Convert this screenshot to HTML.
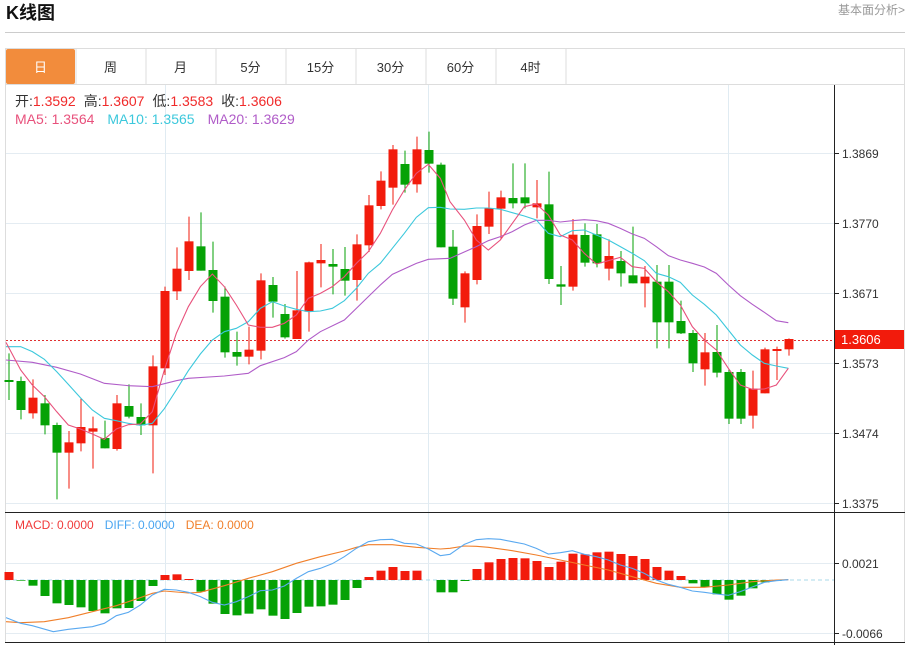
<!DOCTYPE html>
<html><head><meta charset="utf-8"><style>
body{margin:0;background:#fff;width:913px;height:645px;overflow:hidden;font-family:"Liberation Sans","Noto Sans CJK SC",sans-serif;}
svg{position:absolute;left:0;top:0}
</style></head><body>
<svg id="s" width="913" height="645" xmlns="http://www.w3.org/2000/svg" font-family="Liberation Sans, Noto Sans CJK SC, sans-serif">
<text x="6" y="19" font-size="18" font-weight="bold" fill="#111">K线图</text>
<text x="905" y="14" font-size="12" fill="#999" text-anchor="end">基本面分析&gt;</text>
<line x1="5" y1="32.5" x2="905" y2="32.5" stroke="#ccc"/>
<rect x="5.5" y="48.5" width="899" height="594" fill="none" stroke="#ddd"/>
<line x1="5.5" y1="84.5" x2="904.5" y2="84.5" stroke="#ddd"/>
<rect x="6" y="49" width="69" height="35" fill="#f28c3c" rx="2"/>
<g id="tabs"></g>
<g id="grid"></g>
<g id="plot"></g>
<line x1="834.5" y1="85" x2="834.5" y2="645" stroke="#222"/>
<line x1="5" y1="512.5" x2="905" y2="512.5" stroke="#222"/>
<line x1="5" y1="642.5" x2="905" y2="642.5" stroke="#222"/>
<rect x="835" y="330" width="69" height="19" fill="#f21b0c"/>
<text x="841" y="344" font-size="13" fill="#fff">1.3606</text>
<text x="15" y="106" font-size="14"><tspan fill="#333">开:</tspan><tspan fill="#f02a2a">1.3592</tspan><tspan fill="#333" dx="8">高:</tspan><tspan fill="#f02a2a">1.3607</tspan><tspan fill="#333" dx="8">低:</tspan><tspan fill="#f02a2a">1.3583</tspan><tspan fill="#333" dx="8">收:</tspan><tspan fill="#f02a2a">1.3606</tspan></text>
<text x="15" y="124" font-size="14"><tspan fill="#e8517c">MA5: 1.3564</tspan><tspan fill="#3cc8dc" dx="13">MA10: 1.3565</tspan><tspan fill="#b05cc8" dx="13">MA20: 1.3629</tspan></text>
<text x="15" y="529" font-size="12"><tspan fill="#f03a3a">MACD: 0.0000</tspan><tspan fill="#4aa5f0" dx="11">DIFF: 0.0000</tspan><tspan fill="#f07f2a" dx="11">DEA: 0.0000</tspan></text>
</svg>
<script>
var NS="http://www.w3.org/2000/svg";
function el(p,t,a,txt){var e=document.createElementNS(NS,t);for(var k in a)e.setAttribute(k,a[k]);if(txt!=null)e.textContent=txt;document.getElementById(p).appendChild(e);return e;}
var tabs=["日","周","月","5分","15分","30分","60分","4时"];
for(var i=0;i<8;i++){var x0=5.5+70*i;
 if(i>0)el("tabs","line",{x1:x0+0.5,y1:49,x2:x0+0.5,y2:84,stroke:"#ddd"});
 el("tabs","text",{x:x0+35,y:72,"font-size":"13","text-anchor":"middle",fill:i==0?"#fff":"#333"},tabs[i]);}
el("tabs","line",{x1:566,y1:49,x2:566,y2:84,stroke:"#ddd"});
[153,223,293,363,433,503].forEach(function(y,i){el("grid","line",{x1:6,y1:y+.5,x2:834,y2:y+.5,stroke:"#e4ecf2"});
 el("grid","line",{x1:834,y1:y+.5,x2:839,y2:y+.5,stroke:"#222"});
 el("grid","text",{x:842,y:y+5,"font-size":"12",fill:"#333"},["1.3869","1.3770","1.3671","1.3573","1.3474","1.3375"][i]);});
[165,428,728].forEach(function(x){el("grid","line",{x1:x+.5,y1:85,x2:x+.5,y2:642,stroke:"#e0ebf2"});});
[563,633].forEach(function(y,i){el("grid","line",{x1:6,y1:y+.5,x2:834,y2:y+.5,stroke:"#e4ecf2"});
 el("grid","line",{x1:834,y1:y+.5,x2:839,y2:y+.5,stroke:"#222"});
 el("grid","text",{x:842,y:y+5,"font-size":"12",fill:"#333"},["0.0021","-0.0066"][i]);});
el("grid","line",{x1:6,y1:580,x2:834,y2:580,stroke:"#a8d8ea","stroke-dasharray":"4,3"});
el("grid","line",{x1:6,y1:340.5,x2:834,y2:340.5,stroke:"#e03030","stroke-dasharray":"2,2"});
var C=[
["g",750,754,670,810],["g",753,840,740,868],["r",803,850,748,866],["g",820,886,795,913],["g",885,968,878,1108],["r",937,968,903,1076],["r",891,940,804,964],["r",895,905,860,1016],["g",924,955,872,955],["r",820,957,795,962],
["g",828,860,763,865],["g",861,886,820,915],["r",709,886,676,1030],["r",483,715,470,735],["r",416,484,352,510],["r",334,423,260,450],["g",349,422,247,422],["g",420,513,335,548],["g",500,667,470,683],["g",666,680,605,707],
["r",659,680,590,703],["r",451,662,430,688],["g",465,515,441,563],["g",552,622,522,626],["r",541,627,423,627],["r",397,545,395,605],["r",390,400,342,472],["g",402,410,357,493],["g",417,452,351,497],["r",343,450,313,512],
["r",226,346,195,366],["r",152,228,124,238],["r",58,173,45,224],["g",102,164,62,188],["r",58,163,20,188],["g",60,101,5,128],["g",104,352,98,352],["g",350,506,300,525],["r",430,532,424,578],["r",288,450,253,463],
["r",235,290,185,312],["r",202,236,182,328],["g",204,220,100,235],["g",202,220,100,235],["r",220,232,150,265],["g",223,447,125,462],["g",463,470,408,525],["r",314,470,267,482],["g",315,398,280,410],["g",313,400,282,412],
["r",378,416,328,451],["g",393,430,363,470],["g",436,460,290,460],["r",440,460,408,532],["g",455,577,405,655],["g",455,577,405,655],["g",573,610,512,612],["g",609,700,600,726],["r",667,718,609,767],["g",666,728,585,742],
["g",726,866,717,882],["g",726,866,717,882],["r",776,857,722,896],["r",658,790,653,790],["r",657,662,650,750],["r",627,658,625,677]];
var RED="#f21b0c",GRN="#05a205";
function Y(z){return 130+z/3;}
C.forEach(function(c,i){var x=9+12*i,col=c[0]=="r"?RED:GRN;
 el("plot","line",{x1:x,y1:Y(c[3]),x2:x,y2:Y(c[4]),stroke:col,"stroke-width":1});
 var t=Y(c[1]),b=Y(c[2]);if(b-t<2)b=t+2;
 el("plot","rect",{x:x-4.5,y:t,width:9,height:b-t,fill:col});});
function line(a,b,col,base,yoff){var pts=[];a.forEach(function(p){pts.push((p[0]/3)+","+(yoff+p[1]/3));});b.forEach(function(p){pts.push((450+p[0]/3)+","+(yoff+p[1]/3));});
 el("plot","polyline",{points:pts.join(" "),fill:"none",stroke:col,"stroke-width":1.1});}
line([[18,690],[97,697],[170,712],[241,732],[313,760],[385,767],[457,770],[529,752],[565,745],[673,738],[745,730],[781,707],[853,683],[889,665],[925,630],[961,605],[1033,570],[1069,535],[1105,500],[1141,465],[1177,433],[1249,400],[1285,388],[1350,385]],
[[79,350],[115,332],[151,320],[187,305],[223,285],[259,271],[295,271],[331,276],[367,272],[403,269],[439,272],[475,280],[511,295],[547,312],[583,325],[619,350],[655,377],[691,390],[727,400],[763,411],[799,430],[835,465],[871,497],[907,523],[943,547],[979,572],[1015,578]],"#b05cc8",0,130);
line([[18,650],[62,650],[97,665],[133,688],[170,725],[205,763],[241,803],[277,840],[313,865],[349,872],[385,880],[421,886],[457,880],[493,836],[529,780],[565,722],[601,672],[637,630],[673,605],[709,595],[745,575],[781,535],[817,515],[853,528],[889,538],[925,545],[961,543],[997,535],[1033,512],[1069,475],[1105,430],[1141,400],[1177,355],[1213,310],[1249,262],[1285,233],[1321,232],[1350,237]],
[[43,238],[79,234],[115,234],[151,238],[187,248],[223,258],[259,270],[295,310],[331,320],[367,302],[403,300],[439,315],[475,330],[511,350],[547,370],[583,392],[619,430],[655,440],[691,457],[727,495],[763,523],[799,555],[835,600],[871,645],[907,675],[943,700],[979,708],[1015,715]],"#3cc8dc",0,130);
line([[18,637],[62,720],[97,765],[133,800],[170,845],[205,885],[241,897],[277,912],[313,928],[349,897],[385,884],[421,882],[457,845],[493,720],[529,610],[565,530],[601,470],[637,432],[673,470],[709,525],[745,585],[781,592],[817,592],[853,580],[889,555],[925,505],[961,490],[997,470],[1033,440],[1069,400],[1105,365],[1141,310],[1177,240],[1213,180],[1249,130],[1285,103],[1321,145],[1350,215]],
[[43,270],[79,330],[115,360],[151,330],[187,280],[223,230],[259,222],[295,255],[331,315],[367,330],[403,370],[439,402],[475,392],[511,382],[547,410],[583,415],[619,455],[655,485],[691,525],[727,590],[763,630],[799,660],[835,715],[871,765],[907,778],[943,777],[979,765],[1015,715]],"#e8517c",0,130);
var M=[201,227,242,273,295,300,307,318,325,310,309,288,243,210,208,222,260,296,327,331,326,313,332,342,324,305,304,299,285,249,216,197,186,198,197,224,262,262,228,192,172,162,159,160,168,186,170,146,148,142,140,147,153,162,186,197,213,235,246,268,284,272,250,232,228,224];
M.forEach(function(v,i){var x=9+12*i,y0=580,y=505+v/3;if(Math.abs(y-y0)<0.6)return;
 el("plot","rect",{x:x-4.5,y:Math.min(y,y0),width:9,height:Math.abs(y-y0),fill:y<y0?RED:GRN});});
line([[18,350],[62,353],[133,350],[205,338],[277,320],[349,302],[421,278],[457,265],[493,258],[565,264],[601,262],[673,242],[745,220],[817,200],[889,175],[961,155],[1033,138],[1069,127],[1105,119],[1177,119],[1249,127],[1321,132],[1350,130]],
[[43,123],[79,124],[115,127],[187,137],[259,150],[331,165],[403,180],[475,195],[547,215],[619,235],[691,247],[763,247],[835,240],[907,230],[979,225],[1015,224]],"#f07f2a",0,505);
line([[18,338],[62,355],[97,362],[160,380],[205,373],[277,365],[313,355],[349,332],[385,322],[421,300],[457,270],[493,253],[529,255],[565,262],[601,275],[637,292],[673,300],[709,290],[745,275],[781,257],[817,255],[853,243],[889,220],[925,200],[961,190],[997,176],[1033,155],[1069,130],[1105,110],[1141,104],[1177,103],[1213,115],[1249,117],[1285,132],[1321,152],[1350,148]],
[[43,118],[79,104],[115,101],[151,103],[187,110],[223,117],[259,130],[295,147],[331,143],[367,137],[403,148],[439,155],[475,165],[511,180],[547,190],[583,205],[619,225],[655,238],[691,247],[727,258],[763,262],[799,267],[835,271],[871,260],[907,246],[943,232],[979,227],[1015,224]],"#5aa9f0",0,505);
</script>
</body></html>
